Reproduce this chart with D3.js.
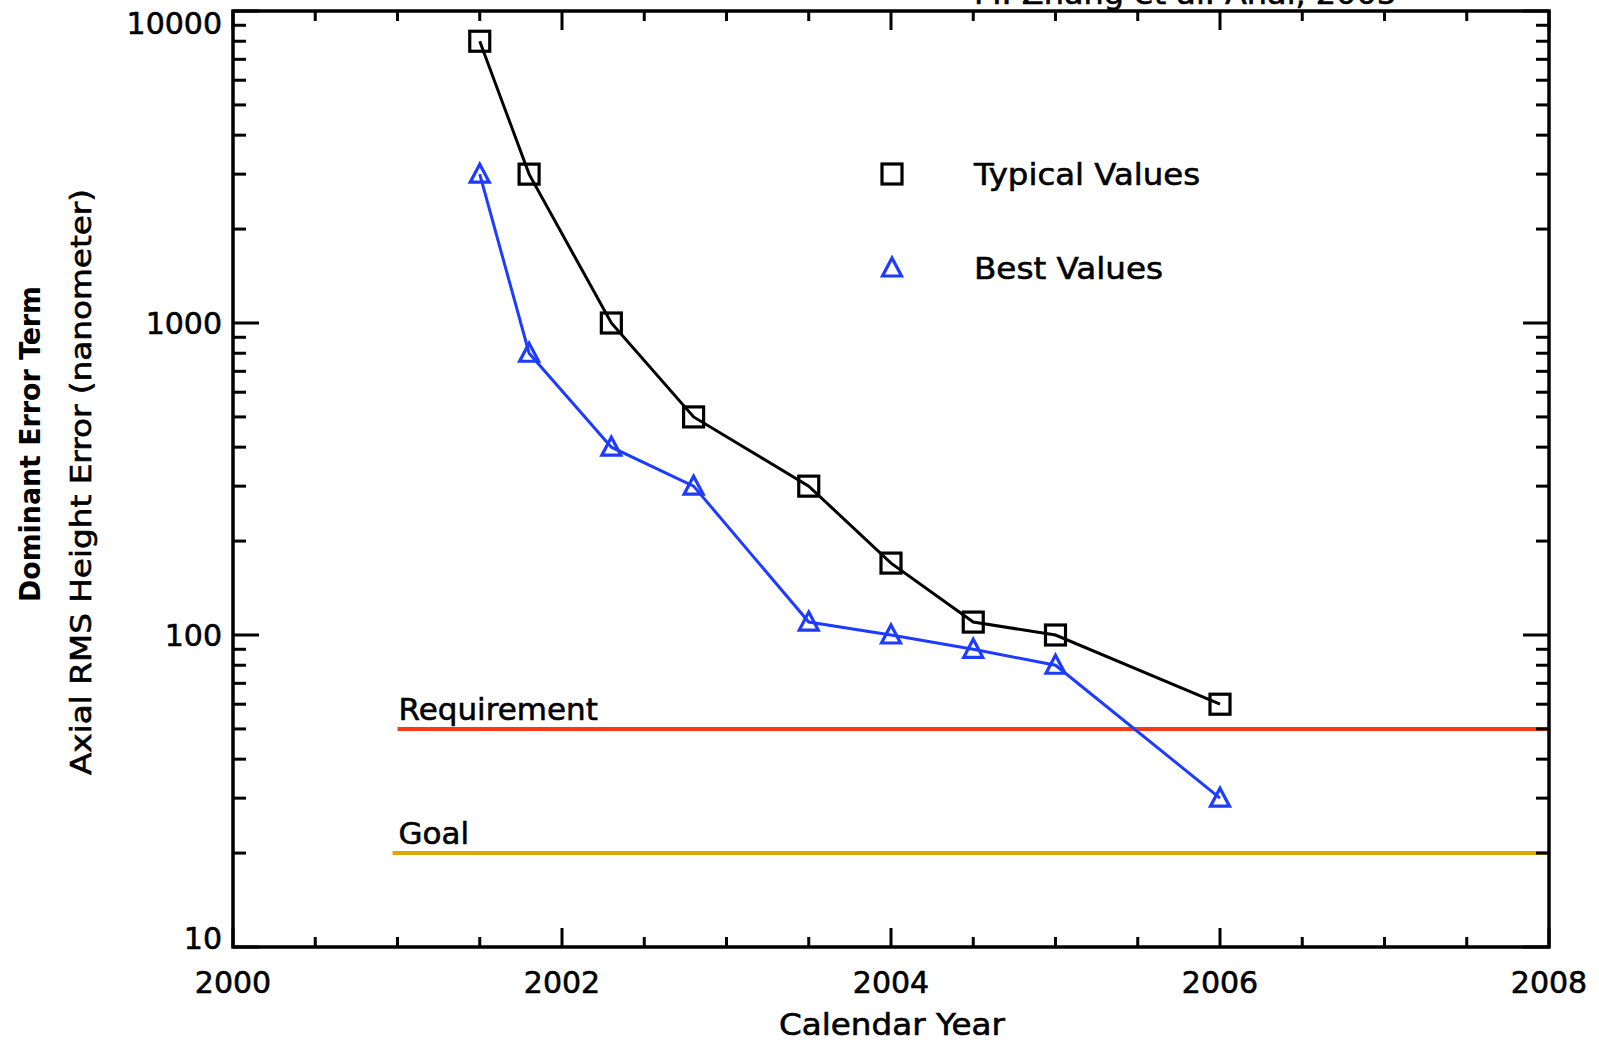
<!DOCTYPE html>
<html>
<head>
<meta charset="utf-8">
<script src="https://cdn.jsdelivr.net/npm/d3@7"></script>
<style>
  html, body { margin: 0; padding: 0; background: #fff; }
  svg { display: block; font-family: "DejaVu Sans", sans-serif; }
  .lbl { stroke: #000; stroke-width: 0.6px; }
</style>
</head>
<body>
<div id="chart"></div>
<script>
// data
const years = [2001.5, 2001.8, 2002.3, 2002.8, 2003.5, 2004.0, 2004.5, 2005.0, 2006.0];
const typicalValues = [8000, 3000, 1000, 500, 300, 170, 110, 100, 60];
const bestValues = [3000, 800, 400, 300, 110, 100, 90, 80, 30];
const requirementLevel = 50;
const goalLevel = 20;
const refLineStart = [2001.0, 2000.97];
const xTickLabels = [2000, 2002, 2004, 2006, 2008];
const yTickLabels = [10, 100, 1000, 10000];

const W = 1599, H = 1043;
const margin = { top: 11, right: 50, bottom: 96, left: 233 };
const innerW = W - margin.left - margin.right;
const innerH = H - margin.top - margin.bottom;

const svg = d3.select('#chart').append('svg')
  .attr('width', W)
  .attr('height', H);

const x = d3.scaleLinear().domain([2000, 2008]).range([margin.left, margin.left + innerW]);
const y = d3.scaleLog().domain([10, 10000]).range([margin.top + innerH, margin.top]);

const blue = '#1e3cff';

// reference lines
const refs = [
  { name: 'Requirement', value: requirementLevel, start: refLineStart[0], color: '#ff3816' },
  { name: 'Goal', value: goalLevel, start: refLineStart[1], color: '#dea700' }
];
refs.forEach(r => {
  svg.append('line')
    .attr('x1', x(r.start)).attr('x2', x(2008))
    .attr('y1', y(r.value)).attr('y2', y(r.value))
    .attr('stroke', r.color).attr('stroke-width', 4);
  svg.append('text')
    .attr('class', 'lbl')
    .attr('x', x(2001) + 1)
    .attr('y', y(r.value) - 9)
    .attr('font-size', 31)
    .text(r.name);
});

// series
const series = [
  { values: typicalValues, color: '#000', symbol: 'square' },
  { values: bestValues, color: blue, symbol: 'triangle' }
];
const line = d3.line().x(d => x(d[0])).y(d => y(d[1]));

function drawSymbol(g, kind, cx, cy, color) {
  if (kind === 'square') {
    g.append('rect')
      .attr('x', cx - 10).attr('y', cy - 10)
      .attr('width', 20).attr('height', 20)
      .attr('fill', 'none').attr('stroke', color).attr('stroke-width', 3.2);
  } else {
    g.append('path')
      .attr('d', `M${cx},${cy - 10}L${cx + 9.5},${cy + 8}L${cx - 9.5},${cy + 8}Z`)
      .attr('fill', 'none').attr('stroke', color).attr('stroke-width', 3.2)
      .attr('stroke-linejoin', 'miter');
  }
}

series.forEach(s => {
  const pts = years.map((yr, i) => [yr, s.values[i]]);
  svg.append('path')
    .attr('d', line(pts))
    .attr('fill', 'none')
    .attr('stroke', s.color)
    .attr('stroke-width', 3);
  const g = svg.append('g');
  pts.forEach(p => drawSymbol(g, s.symbol, x(p[0]), y(p[1]), s.color));
});

// axes frame
const axisG = svg.append('g').attr('stroke', '#000').attr('stroke-width', 3);
const x0 = margin.left, x1 = margin.left + innerW, y0 = margin.top, y1 = margin.top + innerH;

// x ticks (inward, bottom and top)
const xMinor = d3.range(2000, 2008.01, 0.5);
xMinor.forEach(t => {
  const major = xTickLabels.includes(t);
  const len = major ? 19 : 10;
  axisG.append('line').attr('x1', x(t)).attr('x2', x(t)).attr('y1', y1).attr('y2', y1 - len);
  axisG.append('line').attr('x1', x(t)).attr('x2', x(t)).attr('y1', y0).attr('y2', y0 + len);
});

// y ticks (inward, left and right)
const yTicks = [];
[10, 100, 1000].forEach(dec => {
  for (let m = 1; m < 10; m++) yTicks.push({ v: dec * m, major: m === 1 });
});
yTicks.push({ v: 10000, major: true });
yTicks.forEach(t => {
  const len = t.major ? 26 : 13;
  axisG.append('line').attr('x1', x0).attr('x2', x0 + len).attr('y1', y(t.v)).attr('y2', y(t.v));
  axisG.append('line').attr('x1', x1).attr('x2', x1 - len).attr('y1', y(t.v)).attr('y2', y(t.v));
});

svg.append('rect')
  .attr('x', x0).attr('y', y0)
  .attr('width', innerW).attr('height', innerH)
  .attr('fill', 'none').attr('stroke', '#000').attr('stroke-width', 3.5);

// tick labels
svg.append('g').selectAll('text').data(xTickLabels).join('text')
  .attr('class', 'lbl')
  .attr('x', d => x(d))
  .attr('y', y1 + 46)
  .attr('text-anchor', 'middle')
  .attr('font-size', 30)
  .text(d => d);

svg.append('g').selectAll('text').data(yTickLabels).join('text')
  .attr('class', 'lbl')
  .attr('x', x0 - 11)
  .attr('y', d => Math.min(Math.max(y(d), y0 + 11.5), y1 - 9) + 11)
  .attr('text-anchor', 'end')
  .attr('font-size', 30)
  .text(d => d);

// axis titles
svg.append('text')
  .attr('class', 'lbl')
  .attr('x', x(2004) + 1)
  .attr('y', 1035)
  .attr('text-anchor', 'middle')
  .attr('font-size', 31)
  .attr('textLength', 226)
  .attr('lengthAdjust', 'spacingAndGlyphs')
  .text('Calendar Year');

svg.append('text')
  .attr('transform', 'translate(40,444) rotate(-90)')
  .attr('text-anchor', 'middle')
  .attr('font-size', 29)
  .attr('font-weight', 'bold')
  .attr('textLength', 316)
  .attr('lengthAdjust', 'spacingAndGlyphs')
  .text('Dominant Error Term');

svg.append('text')
  .attr('class', 'lbl')
  .attr('transform', 'translate(91,482) rotate(-90)')
  .attr('text-anchor', 'middle')
  .attr('font-size', 28)
  .attr('textLength', 586)
  .attr('lengthAdjust', 'spacingAndGlyphs')
  .text('Axial RMS Height  Error  (nanometer)');

// legend
const legend = [
  { label: 'Typical Values', symbol: 'square', color: '#000', cy: 174, len: 226 },
  { label: 'Best Values', symbol: 'triangle', color: blue, cy: 268, len: 189 }
];
legend.forEach(l => {
  drawSymbol(svg, l.symbol, 892, l.cy, l.color);
  svg.append('text')
    .attr('class', 'lbl')
    .attr('x', 974)
    .attr('y', l.cy + 11)
    .attr('font-size', 31)
    .attr('textLength', l.len)
    .attr('lengthAdjust', 'spacingAndGlyphs')
    .text(l.label);
});

// source note, mostly cut off at the top edge as in the reference
svg.append('text')
  .attr('class', 'lbl')
  .attr('x', 974)
  .attr('y', 4)
  .attr('font-size', 31)
  .attr('textLength', 423)
  .attr('lengthAdjust', 'spacingAndGlyphs')
  .text('M. Zhang et al. Anal, 2005');
</script>
</body>
</html>
